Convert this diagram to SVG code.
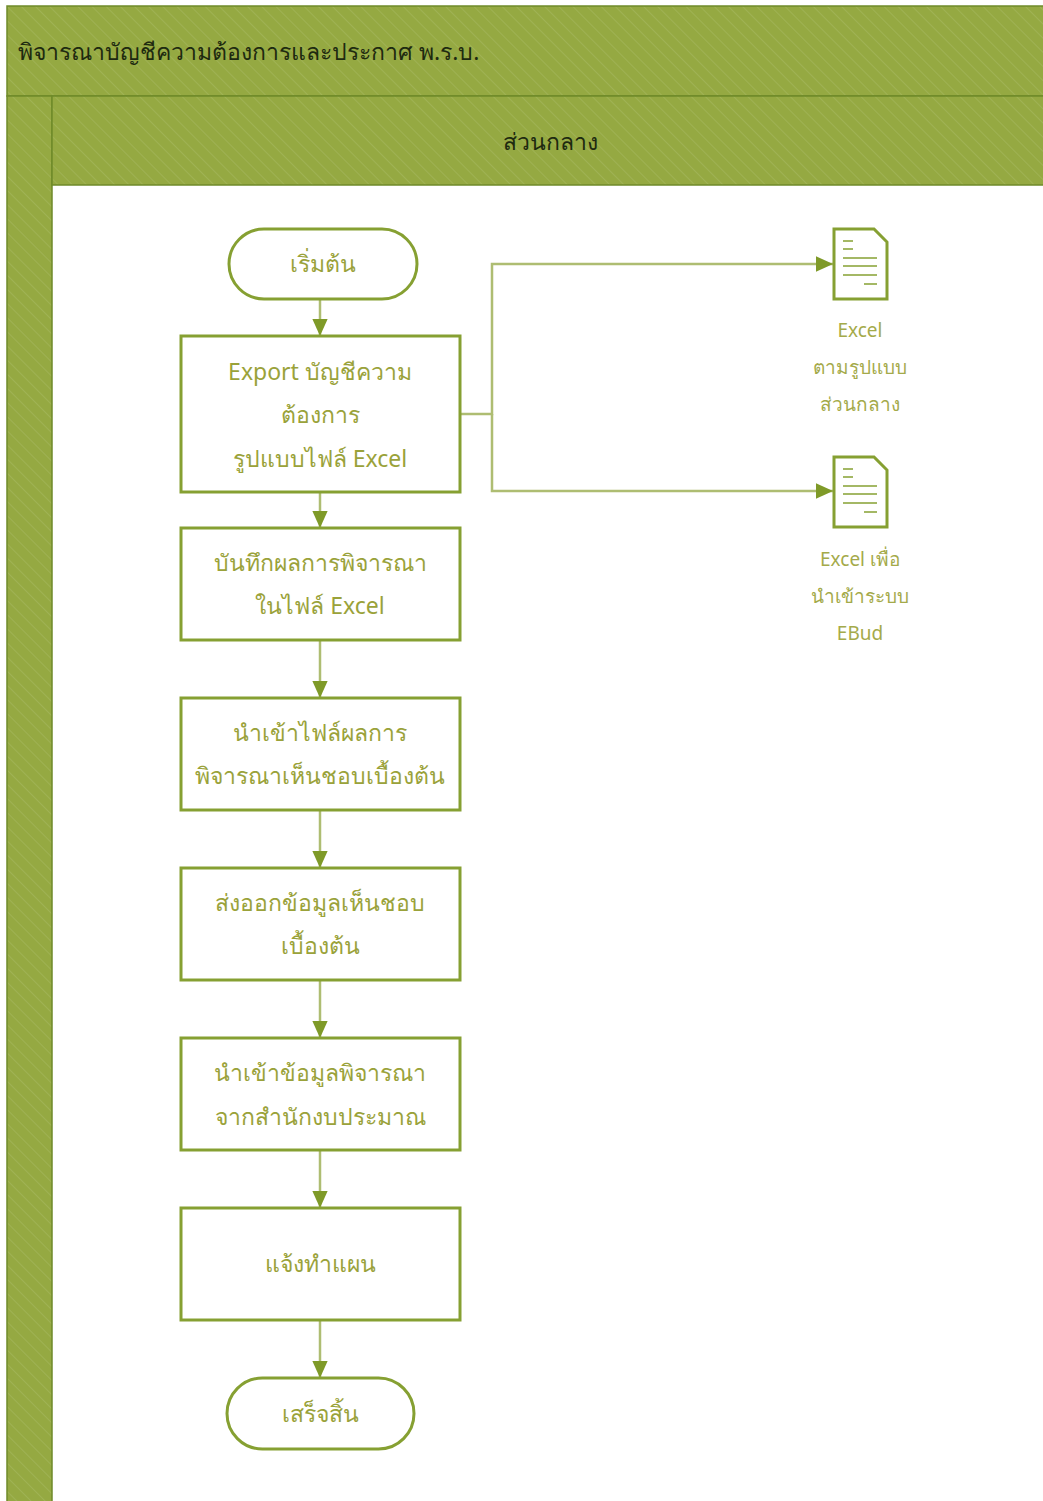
<svg xmlns="http://www.w3.org/2000/svg" width="1043" height="1501" viewBox="0 0 1043 1501">
<defs>
<pattern id="hatch" width="10" height="10" patternUnits="userSpaceOnUse" patternTransform="rotate(-45)">
<rect width="10" height="10" fill="#95a942"/>
<line x1="0" y1="0" x2="0" y2="10" stroke="#a3b55a" stroke-width="1.5"/>
</pattern>
<marker id="arr" viewBox="0 0 10 10" refX="10" refY="5" markerWidth="17" markerHeight="17" markerUnits="userSpaceOnUse" orient="auto">
<path d="M0,0.5 L10,5 L0,9.5 z" fill="#7f9a28"/>
</marker>
<style>
.band{fill:url(#hatch);stroke:#6f8a2a;stroke-width:1.5}
.node{fill:#ffffff;stroke:#86a032;stroke-width:3}
.doc{fill:#ffffff;stroke:#86a032;stroke-width:3}
.docline{stroke:#86a032;stroke-width:1.5}
.conn{fill:none;stroke:#aebd72;stroke-width:2.5}
.t{font-family:"Noto Sans","DejaVu Sans",sans-serif;font-size:23px;fill:#9aa23a;text-anchor:middle}
.s{font-family:"Noto Sans","DejaVu Sans",sans-serif;font-size:19px;fill:#a4aa4a;text-anchor:middle}
.h{font-family:"Noto Sans","DejaVu Sans",sans-serif;font-size:23px;fill:#1e2a10}
</style>
</defs>
<rect x="0" y="0" width="1043" height="1501" fill="#ffffff"/>
<g id="pool">
<rect class="band" x="7" y="6" width="1040" height="90"/>
<text class="h" x="18" y="60">พิจารณาบัญชีความต้องการและประกาศ พ.ร.บ.</text>
</g>
<g id="lane">
<rect class="band" x="7" y="96" width="45" height="1410"/>
<rect class="band" x="52" y="96" width="995" height="89"/>
<text class="h" x="550" y="150" text-anchor="middle">ส่วนกลาง</text>
</g>
<g id="connectors">
<line class="conn" x1="320" y1="299" x2="320" y2="336" marker-end="url(#arr)"/>
<line class="conn" x1="320" y1="492" x2="320" y2="528" marker-end="url(#arr)"/>
<line class="conn" x1="320" y1="640" x2="320" y2="698" marker-end="url(#arr)"/>
<line class="conn" x1="320" y1="810" x2="320" y2="868" marker-end="url(#arr)"/>
<line class="conn" x1="320" y1="980" x2="320" y2="1038" marker-end="url(#arr)"/>
<line class="conn" x1="320" y1="1150" x2="320" y2="1208" marker-end="url(#arr)"/>
<line class="conn" x1="320" y1="1320" x2="320" y2="1378" marker-end="url(#arr)"/>
<path class="conn" d="M460,414 H492 V264 H833" marker-end="url(#arr)"/>
<path class="conn" d="M492,414 V491 H833" marker-end="url(#arr)"/>
</g>
<g id="start">
<rect class="node" x="229" y="229" width="188" height="70" rx="35"/>
<text class="t" x="323" y="272">เริ่มต้น</text>
</g>
<g id="n1">
<rect class="node" x="181" y="336" width="279" height="156"/>
<text class="t" x="320" y="380">Export บัญชีความ</text>
<text class="t" x="320" y="423">ต้องการ</text>
<text class="t" x="320" y="467">รูปแบบไฟล์ Excel</text>
</g>
<g id="n2">
<rect class="node" x="181" y="528" width="279" height="112"/>
<text class="t" x="320" y="571">บันทึกผลการพิจารณา</text>
<text class="t" x="320" y="614">ในไฟล์ Excel</text>
</g>
<g id="n3">
<rect class="node" x="181" y="698" width="279" height="112"/>
<text class="t" x="320" y="741">นำเข้าไฟล์ผลการ</text>
<text class="t" x="320" y="784">พิจารณาเห็นชอบเบื้องต้น</text>
</g>
<g id="n4">
<rect class="node" x="181" y="868" width="279" height="112"/>
<text class="t" x="320" y="911">ส่งออกข้อมูลเห็นชอบ</text>
<text class="t" x="320" y="954">เบื้องต้น</text>
</g>
<g id="n5">
<rect class="node" x="181" y="1038" width="279" height="112"/>
<text class="t" x="320" y="1081">นำเข้าข้อมูลพิจารณา</text>
<text class="t" x="320" y="1125">จากสำนักงบประมาณ</text>
</g>
<g id="n6">
<rect class="node" x="181" y="1208" width="279" height="112"/>
<text class="t" x="320" y="1272">แจ้งทำแผน</text>
</g>
<g id="end">
<rect class="node" x="227" y="1378" width="187" height="71" rx="35.5"/>
<text class="t" x="320" y="1422">เสร็จสิ้น</text>
</g>
<g id="doc1">
<path class="doc" d="M834,229 H874 L887,242 V299 H834 Z"/>
<line class="docline" x1="843" y1="241" x2="853" y2="241"/>
<line class="docline" x1="843" y1="249" x2="853" y2="249"/>
<line class="docline" x1="843" y1="258" x2="877" y2="258"/>
<line class="docline" x1="843" y1="266" x2="877" y2="266"/>
<line class="docline" x1="843" y1="275" x2="877" y2="275"/>
<line class="docline" x1="864" y1="284" x2="877" y2="284"/>
<text class="s" x="860" y="337">Excel</text>
<text class="s" x="860" y="374">ตามรูปแบบ</text>
<text class="s" x="860" y="411">ส่วนกลาง</text>
</g>
<g id="doc2">
<path class="doc" d="M834,457 H874 L887,470 V527 H834 Z"/>
<line class="docline" x1="843" y1="469" x2="853" y2="469"/>
<line class="docline" x1="843" y1="477" x2="853" y2="477"/>
<line class="docline" x1="843" y1="486" x2="877" y2="486"/>
<line class="docline" x1="843" y1="494" x2="877" y2="494"/>
<line class="docline" x1="843" y1="503" x2="877" y2="503"/>
<line class="docline" x1="864" y1="512" x2="877" y2="512"/>
<text class="s" x="860" y="566">Excel เพื่อ</text>
<text class="s" x="860" y="603">นำเข้าระบบ</text>
<text class="s" x="860" y="640">EBud</text>
</g>
</svg>
